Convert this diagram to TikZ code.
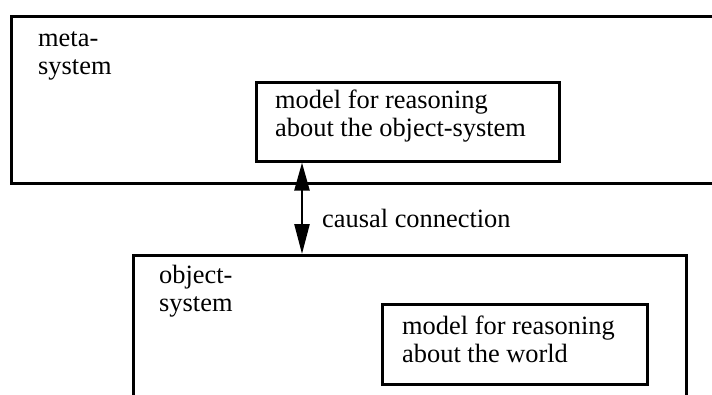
\documentclass[tikz,border=0pt]{standalone}
\usepackage{fontspec}
\setmainfont{Liberation Serif}
\usetikzlibrary{arrows.meta}
\begin{document}
\begin{tikzpicture}[x=1pt,y=-1pt,
  boxstyle/.style={draw, line width=2.6pt, rectangle, inner sep=0pt, anchor=north west},
  lbl/.style={font=\fontsize{26.4}{28}\selectfont, inner sep=0pt, anchor=base west, align=left},
  conn/.style={line width=2.5pt, {Triangle[length=28pt,width=15pt]}-{Triangle[length=30pt,width=15pt]}}]
\useasboundingbox (0,0) rectangle (712,394);
\clip (0,0) rectangle (712,394);
\node[boxstyle, minimum width=720pt, minimum height=167pt] (meta) at (10,15) {};
\node[boxstyle, minimum width=303pt, minimum height=79pt] (metamodel) at (255,81) {};
\node[boxstyle, minimum width=553pt, minimum height=180pt] (obj) at (132,254) {};
\node[boxstyle, minimum width=265pt, minimum height=80pt] (objmodel) at (381,303) {};
\node[lbl] (metalbl) at (38,74) {meta-\\system};
\node[lbl] (metamodellbl) at (275,136) {model for reasoning\\about the object-system};
\node[lbl] (objlbl) at (159,311) {object-\\system};
\node[lbl] (objmodellbl) at (402,362) {model for reasoning\\about the world};
\coordinate (ax) at (302,0);
\draw[conn] (metamodel.south -| ax) -- (obj.north -| ax);
\node[lbl] (causal) at (322,227) {causal connection};
\end{tikzpicture}
\end{document}
